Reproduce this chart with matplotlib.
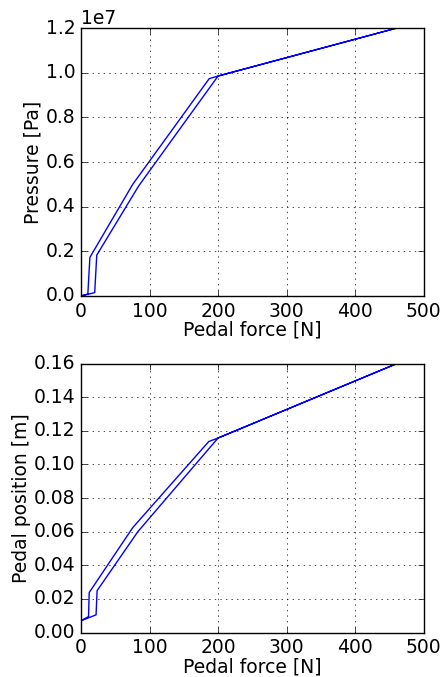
import matplotlib
matplotlib.use('Agg')
import matplotlib.pyplot as plt

# Pressure vs pedal force (hysteresis loop)
force_p = [0, 20, 23, 84, 200, 461, 200, 187, 75.5, 13, 10, 0]
pressure = [0, 0.15e6, 1.83e6, 4.92e6, 9.85e6, 1.2e7,
            9.85e6, 9.73e6, 5.0e6, 1.73e6, 0.09e6, 0]

# Pedal position vs pedal force
force_x = [0, 22, 23.5, 83, 200, 461, 200, 186.4, 75.5, 12, 11, 0]
position = [0.007, 0.0105, 0.0249, 0.060, 0.1157, 0.16,
            0.1157, 0.1136, 0.0624, 0.0238, 0.0095, 0.007]

plt.style.use('classic')
plt.rcParams['font.family'] = ['DejaVu Sans']
plt.rcParams['font.size'] = 13.5

fig = plt.figure(figsize=(4.45, 6.77), dpi=100, facecolor='white')
ax1 = fig.add_axes([0.182, 0.5628, 0.770, 0.3958])
ax2 = fig.add_axes([0.182, 0.0657, 0.770, 0.3973])

ax1.plot(force_p, pressure, 'b-')
ax1.set_xlim(0, 500)
ax1.set_ylim(0, 1.2e7)
ax1.set_xlabel('Pedal force [N]', labelpad=0)
ax1.set_ylabel('Pressure [Pa]', labelpad=2)
ax1.grid(True)

ax2.plot(force_x, position, 'b-')
ax2.set_xlim(0, 500)
ax2.set_ylim(0, 0.16)
ax2.set_xlabel('Pedal force [N]', labelpad=0)
ax2.set_ylabel('Pedal position [m]', labelpad=2)
ax2.grid(True)

fig.savefig('out.png', dpi=100, facecolor='white')
